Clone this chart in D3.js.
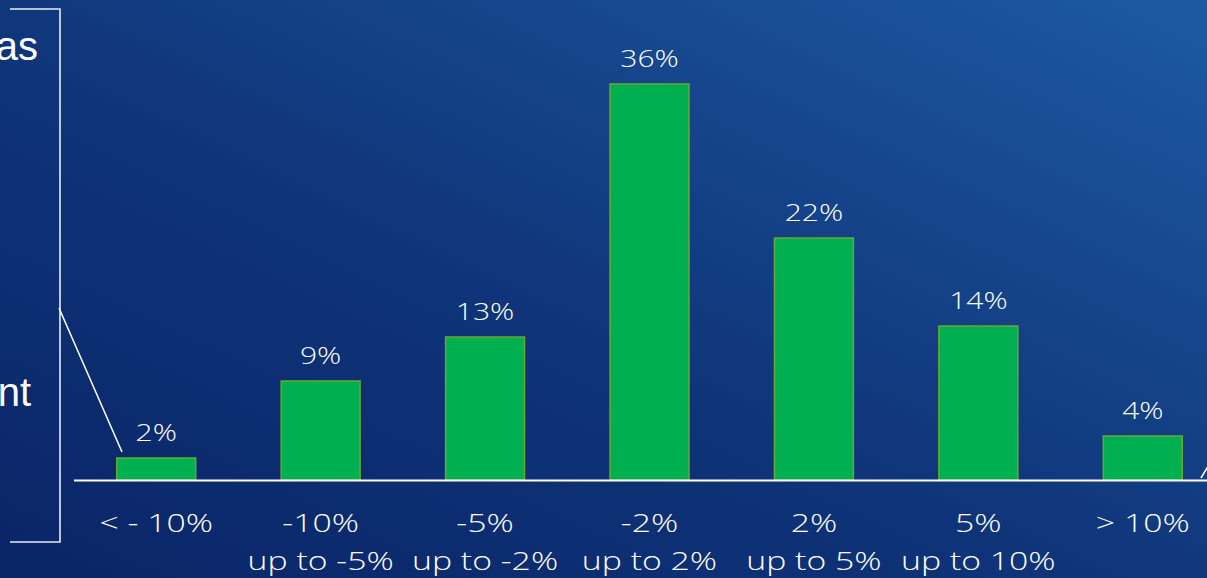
<!DOCTYPE html>
<html><head><meta charset="utf-8">
<script src="https://cdn.jsdelivr.net/npm/d3@7"></script>
<style>
html,body{margin:0;padding:0;overflow:hidden;}
svg{display:block;}
</style></head>
<body>
<svg id="c" width="1207" height="578"></svg>
<script>
const categories = ["< - 10%", "-10%|up to -5%", "-5%|up to -2%", "-2%|up to 2%", "2%|up to 5%", "5%|up to 10%", "> 10%"];
const values = [2, 9, 13, 36, 22, 14, 4];
const valueLabels = ["2%", "9%", "13%", "36%", "22%", "14%", "4%"];
const sideTexts = ["as", "nt"];

const W = 1207, H = 578;
const svg = d3.select("#c");
const defs = svg.append("defs");
const g = defs.append("linearGradient").attr("id","bg")
  .attr("x1","0%").attr("y1","100%").attr("x2","100%").attr("y2","0%");
g.append("stop").attr("offset","0%").attr("stop-color","#0a2568");
g.append("stop").attr("offset","45%").attr("stop-color","#0f3479");
g.append("stop").attr("offset","100%").attr("stop-color","#1d5aa2");
svg.append("rect").attr("width",W).attr("height",H).attr("fill","url(#bg)");

const x = d3.scaleBand().domain(categories).range([74, 1225]).paddingInner(0.52).paddingOuter(0.26);
const y = d3.scaleLinear().domain([0, 36]).range([480, 84]);

// bars
svg.selectAll("rect.bar").data(values).enter().append("rect")
  .attr("class","bar")
  .attr("x",(d,i)=>x(categories[i]))
  .attr("width",x.bandwidth())
  .attr("y",d=>y(d))
  .attr("height",d=>y(0)-y(d))
  .attr("fill","#00b050")
  .attr("stroke","#6aa831")
  .attr("stroke-width",1.5);

// value labels
svg.selectAll("g.val").data(values).enter().append("g")
  .attr("class","val")
  .attr("transform",(d,i)=>`translate(${x(categories[i])+x.bandwidth()/2},${y(d)-17})`)
  .append("text")
  .attr("transform","scale(1.25,1)")
  .attr("text-anchor","middle")
  .attr("fill","#ffffff")
  .attr("font-family","'Open Sans', sans-serif")
  .attr("font-weight",300)
  .attr("font-size",24)
  .text((d,i)=>valueLabels[i]);

// axis
const axis = d3.axisBottom(x).tickSize(0).tickPadding(0);
const ax = svg.append("g").attr("transform","translate(0,480)").call(axis);
ax.select(".domain").attr("stroke","#ffffff").attr("stroke-width",2).attr("d","M74,0.5H1207");
ax.selectAll(".tick text").each(function(d){
  const t = d3.select(this);
  t.text(null).attr("fill","#ffffff").attr("font-family","'Open Sans', sans-serif")
   .attr("font-weight",300).attr("font-size",26).attr("y",0).attr("dy",null)
   .attr("transform","scale(1.3,1)");
  d.split("|").forEach((line,i)=>{
    t.append("tspan").attr("x",0).attr("y",52 + i*38).text(line);
  });
});

// bracket
svg.append("path").attr("d","M10,9H60V542H10").attr("fill","none").attr("stroke","#e8ecf4").attr("stroke-width",1.6);
svg.append("line").attr("x1",59).attr("y1",308).attr("x2",122).attr("y2",452).attr("stroke","#ffffff").attr("stroke-width",1.5);
svg.append("line").attr("x1",1201).attr("y1",478).attr("x2",1210).attr("y2",463).attr("stroke","#ffffff").attr("stroke-width",1.5);

// side texts (partially outside the frame, as in the reference)
svg.selectAll("text.side").data(sideTexts).enter().append("text")
  .attr("class","side")
  .attr("x",(d,i)=> i===0 ? 38 : 31)
  .attr("y",(d,i)=> i===0 ? 60 : 406)
  .attr("text-anchor","end")
  .attr("fill","#ffffff")
  .attr("font-family","'Liberation Sans', Arial, sans-serif")
  .attr("font-size",40)
  .text(d=>d);
</script>
</body></html>
